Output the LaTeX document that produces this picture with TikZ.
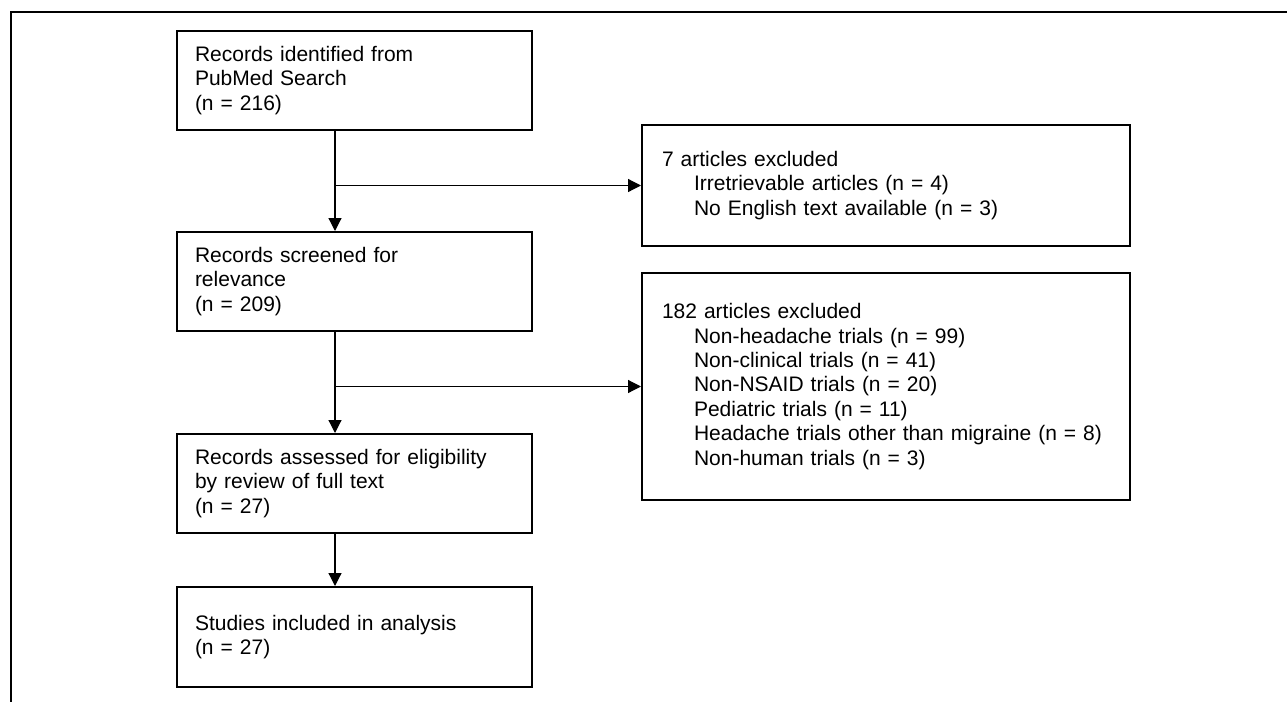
\documentclass[tikz,border=0pt]{standalone}
\usepackage{amsmath, amssymb, tikz}
\usepackage{fontspec}
\setmainfont{Liberation Sans}
\usetikzlibrary{arrows.meta, positioning}

\begin{document}
\begin{tikzpicture}[x=0.5pt, y=-0.5pt,
    every node/.style={font=\fontsize{10.5}{12.2}\selectfont},
    mainbox/.style={draw, line width=1pt, align=left, text width=159.5pt, inner xsep=9pt, minimum height=49.5pt},
    exclbox/.style={draw, line width=1pt, align=left, text width=224pt, inner xsep=10pt},
    arr/.style={line width=0.6pt, -{Triangle[length=6.5pt, width=6.5pt]}}]
          \useasboundingbox (0, 0) rectangle (1287, 702);
          \draw[line width=1pt] (11, 702) -- (11, 12) -- (1287, 12);
          \node[mainbox] (ident) at (354.5, 80.5) {Records identified from\\PubMed Search\\(n = 216)};
          \node[mainbox] (screen) at (354.5, 281.5) {Records screened for\\relevance\\(n = 209)};
          \node[mainbox] (assess) at (354.5, 483.5) {Records assessed for eligibility\\by review of full text\\(n = 27)};
          \node[mainbox, minimum height=50pt] (incl) at (354.5, 637) {Studies included in analysis\\(n = 27)};
          \node[exclbox, minimum height=60.5pt] (excl1) at (886, 185.5) {7 articles excluded\\
            \hspace*{16pt}Irretrievable articles (n = 4)\\
            \hspace*{16pt}No English text available (n = 3)};
          \node[exclbox, minimum height=113.5pt] (excl2) at (886, 386.5) {182 articles excluded\\
            \hspace*{16pt}Non-headache trials (n = 99)\\
            \hspace*{16pt}Non-clinical trials (n = 41)\\
            \hspace*{16pt}Non-NSAID trials (n = 20)\\
            \hspace*{16pt}Pediatric trials (n = 11)\\
            \hspace*{16pt}Headache trials other than migraine (n = 8)\\
            \hspace*{16pt}Non-human trials (n = 3)};
          \coordinate (col) at (335, 0);
          \draw[arr] (ident.south -| col) -- (screen.north -| col);
          \draw[arr] (excl1.west -| col) -- (excl1.west);
          \draw[arr] (screen.south -| col) -- (assess.north -| col);
          \draw[arr] (excl2.west -| col) -- (excl2.west);
          \draw[arr] (assess.south -| col) -- (incl.north -| col);
        \end{tikzpicture}
\end{document}
